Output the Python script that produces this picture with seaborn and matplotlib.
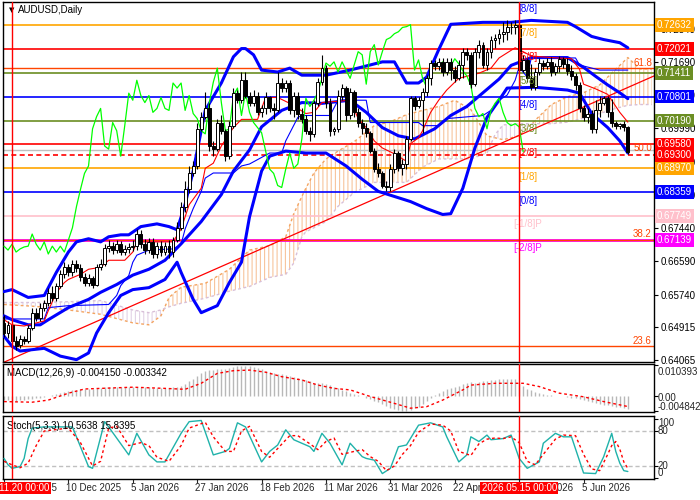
import matplotlib
matplotlib.use("Agg")
import matplotlib.pyplot as plt
import seaborn as sns
import numpy as np

sns.set_style("white")
plt.rcParams["font.family"] = ["Liberation Sans", "DejaVu Sans"]
plt.rcParams["hatch.linewidth"] = 0.8

# ---------------- candles (daily AUDUSD) ----------------
OPEN = [.6502,.6476,.6497,.6455,.6445,.6460,.6455,.6489,.6528,.6515,.6541,.6553,.6579,.6566,.6597,.6626,.6644,.6631,.6652,.6641,
        .6618,.6605,.6616,.6600,.6644,.6652,.6693,.6698,.6688,.6703,.6683,.6691,.6696,.6698,.6729,.6703,.6688,.6709,.6678,.6698,
        .6683,.6698,.6683,.6714,.6745,.6799,.6843,.6884,.6903,.6998,.7029,.7050,.6954,.6946,.7014,.6993,.6928,.7006,.7089,.7071,
        .7122,.7083,.7065,.7083,.7040,.7050,.7078,.7050,.7045,.7115,.7102,.7115,.7045,.7083,.7037,.7024,.6993,.6985,.7063,.7117,
        .7153,.7065,.6993,.6998,.7083,.7102,.7032,.7091,.7040,.7014,.7001,.6988,.6941,.6895,.6884,.6853,.6848,.6895,.6936,.6897,
        .6908,.6972,.7076,.7055,.7071,.7091,.7127,.7166,.7158,.7169,.7143,.7169,.7148,.7127,.7161,.7195,.7187,.7112,.7195,.7213,
        .7161,.7195,.7226,.7231,.7241,.7246,.7257,.7259,.7264,.7148,.7174,.7127,.7104,.7143,.7166,.7158,.7169,.7143,.7158,.7177,
        .7164,.7146,.7133,.7109,.7050,.7029,.7037,.6998,.7045,.7063,.7076,.7040,.7014,.7006,.7011,.7003]
HIGH = [.6522,.6507,.6502,.6468,.6471,.6468,.6497,.6541,.6541,.6553,.6561,.6592,.6597,.6605,.6636,.6657,.6652,.6662,.6662,.6652,
        .6629,.6626,.6623,.6652,.6665,.6703,.6714,.6709,.6714,.6711,.6701,.6706,.6714,.6742,.6740,.6716,.6719,.6719,.6709,.6711,
        .6709,.6714,.6722,.6760,.6812,.6864,.6903,.6915,.7014,.7040,.7091,.7063,.6967,.7024,.7032,.6998,.7019,.7102,.7097,.7143,
        .7143,.7091,.7097,.7091,.7060,.7091,.7083,.7063,.7143,.7127,.7122,.7122,.7091,.7091,.7050,.7032,.7003,.7071,.7127,.7187,
        .7161,.7076,.7003,.7097,.7112,.7107,.7102,.7097,.7050,.7024,.7014,.6993,.6949,.6910,.6890,.6864,.6908,.6946,.6941,.6921,
        .6980,.7083,.7081,.7078,.7102,.7135,.7174,.7174,.7179,.7179,.7179,.7179,.7158,.7174,.7205,.7205,.7195,.7205,.7226,.7220,
        .7205,.7236,.7239,.7252,.7272,.7277,.7272,.7277,.7272,.7187,.7179,.7164,.7153,.7179,.7174,.7179,.7182,.7166,.7184,.7182,
        .7179,.7161,.7140,.7117,.7058,.7050,.7045,.7071,.7081,.7083,.7081,.7073,.7019,.7014,.7019,.7006]
LOW = [.6466,.6463,.6440,.6432,.6437,.6448,.6450,.6484,.6507,.6507,.6533,.6546,.6559,.6559,.6590,.6616,.6623,.6621,.6631,.6610,
       .6597,.6595,.6592,.6595,.6636,.6647,.6683,.6678,.6680,.6675,.6675,.6680,.6685,.6688,.6693,.6678,.6680,.6667,.6667,.6672,
       .6675,.6667,.6670,.6709,.6740,.6786,.6833,.6877,.6895,.6993,.7024,.6941,.6928,.6941,.6985,.6915,.6921,.7001,.7063,.7065,
       .7076,.7055,.7055,.7032,.7029,.7037,.7040,.7024,.7040,.7091,.7091,.7037,.7027,.7024,.7014,.6985,.6967,.6977,.7055,.7109,
       .7050,.6980,.6983,.6990,.7071,.7019,.7024,.7029,.7003,.6985,.6977,.6936,.6887,.6874,.6846,.6838,.6840,.6884,.6890,.6879,
       .6895,.6967,.7045,.7050,.6988,.7083,.7109,.7148,.7148,.7133,.7135,.7122,.7117,.7122,.7127,.7174,.7102,.7107,.7179,.7153,
       .7148,.7179,.7205,.7215,.7220,.7226,.7241,.7241,.7140,.7143,.7117,.7097,.7097,.7135,.7148,.7151,.7133,.7135,.7143,.7153,
       .7135,.7122,.7097,.7040,.7019,.7014,.6988,.6988,.7029,.7060,.7029,.7003,.6998,.6998,.6993,.6934]
CLOSE = [.6476,.6497,.6455,.6442,.6460,.6455,.6489,.6528,.6515,.6541,.6553,.6579,.6566,.6597,.6626,.6644,.6631,.6652,.6641,.6618,
         .6605,.6616,.6600,.6644,.6652,.6693,.6698,.6688,.6703,.6683,.6691,.6696,.6698,.6729,.6703,.6688,.6709,.6678,.6698,.6683,
         .6698,.6683,.6714,.6745,.6799,.6843,.6884,.6903,.6998,.7029,.7050,.6954,.6946,.7014,.6993,.6928,.7006,.7089,.7071,.7122,
         .7083,.7065,.7083,.7040,.7050,.7078,.7050,.7045,.7115,.7102,.7115,.7045,.7083,.7037,.7024,.6993,.6985,.7063,.7117,.7153,
         .7065,.6993,.6998,.7083,.7102,.7032,.7091,.7040,.7014,.7001,.6988,.6941,.6895,.6884,.6853,.6848,.6895,.6936,.6897,.6908,
         .6972,.7076,.7055,.7071,.7091,.7127,.7166,.7158,.7169,.7143,.7169,.7148,.7127,.7161,.7195,.7187,.7112,.7195,.7213,.7161,
         .7195,.7226,.7231,.7241,.7246,.7257,.7259,.7264,.7148,.7174,.7127,.7104,.7143,.7166,.7158,.7169,.7143,.7158,.7177,.7164,
         .7146,.7133,.7109,.7050,.7029,.7037,.6998,.7045,.7063,.7076,.7040,.7014,.7006,.7011,.7003,.6939]

# ---------------- indicator traces (bar index, value) ----------------
BB_UPPER = [(0,.6582),(2,.6587),(6,.6567),(10,.6572),(13,.6631),(16,.6683),(18,.6709),(21,.6717),(24,.6709),(26,.6722),
            (29,.6727),(31,.6727),(34,.6748),(38,.6755),(41,.6748),(43,.6740),(45,.6805),(47,.6890),(49,.6993),(50,.7045),
            (54,.7115),(57,.7182),(59,.7203),(60,.7203),(62,.7187),(64,.7148),(68,.7143),(71,.7153),(74,.7135),(80,.7135),
            (86,.7148),(94,.7169),(97,.7169),(100,.7115),(103,.7115),(105,.7130),(108,.7200),(111,.7265),(119,.7270),
            (126,.7270),(131,.7275),(140,.7270),(142,.7259),(146,.7234),(149,.7226),(153,.7218),(155,.7205)]
BB_MID = [(0,.6520),(2,.6510),(6,.6497),(9,.6497),(11,.6510),(16,.6541),(21,.6562),(24,.6580),(28,.6600),(32,.6624),
          (36,.6639),(40,.6662),(44,.6704),(49,.6761),(54,.6830),(57,.6890),(61,.6944),(64,.7003),(69,.7045),(74,.7065),
          (79,.7063),(86,.7071),(90,.7040),(94,.7001),(98,.6980),(102,.6972),(107,.6998),(111,.7032),(115,.7055),
          (119,.7090),(123,.7125),(126,.7160),(131,.7180),(140,.7180),(144,.7155),(147,.7132),(150,.7110),(153,.7090),(155,.7075)]
BB_LOWER = [(0,.6468),(2,.6442),(4,.6430),(10,.6437),(14,.6417),(18,.6408),(21,.6425),(23,.6476),(26,.6528),(29,.6572),
            (32,.6587),(36,.6592),(40,.6613),(43,.6657),(44,.6631),(47,.6562),(49,.6528),(53,.6546),(56,.6605),(59,.6657),
            (61,.6773),(64,.6890),(66,.6928),(70,.6941),(75,.6936),(80,.6936),(85,.6903),(89,.6869),(93,.6838),(97,.6825),
            (101,.6812),(105,.6794),(109,.6779),(111,.6781),(114,.6846),(117,.6949),(120,.7027),(123,.7071),(125,.7102),
            (132,.7104),(140,.7097),(143,.7089),(146,.7037),(150,.7001),(153,.6967),(155,.6936)]
TENKAN = [(0,.6510),(2,.6497),(5,.6494),(10,.6507),(11,.6533),(13,.6579),(15,.6605),(16,.6613),(19,.6626),(21,.6639),
          (24,.6644),(26,.6662),(30,.6662),(32,.6683),(33,.6709),(42,.6709),(44,.6742),(46,.6804),(49,.6846),(50,.6897),
          (52,.6910),(54,.6954),(57,.7001),(59,.7022),(63,.7022),(65,.7078),(68,.7078),(71,.7063),(75,.7037),(77,.7040),
          (79,.7065),(86,.7071),(88,.7024),(90,.7001),(92,.6967),(94,.6949),(97,.6934),(100,.6915),(101,.6960),(103,.6975),
          (104,.6993),(106,.7040),(108,.7071),(110,.7097),(113,.7127),(118,.7140),(121,.7153),(123,.7179),(127,.7205),
          (129,.7195),(131,.7184),(136,.7180),(141,.7177),(143,.7150),(144,.7112),(147,.7100),(150,.7086),(153,.7040),(155,.7015)]
KIJUN = [(0,.6512),(10,.6512),(11,.6541),(16,.6546),(26,.6549),(28,.6572),(29,.6597),(31,.6623),(32,.6657),(33,.6675),
         (36,.6688),(42,.6691),(44,.6703),(45,.6742),(47,.6794),(49,.6838),(50,.6872),(52,.6885),(57,.6885),(59,.6903),
         (61,.6908),(66,.6936),(69,.6936),(70,.6967),(73,.7027),(74,.7032),(81,.7032),(83,.7071),(90,.7071),(91,.7014),
         (103,.7014),(104,.7006),(108,.7006),(110,.7024),(119,.7032),(121,.7045),(123,.7071),(125,.7084),(127,.7122),
         (128,.7156),(130,.7130),(131,.7179),(142,.7179),(143,.7161),(148,.7148),(155,.7148)]
CLOUD_X = [0,8,16,24,32,36,39,41,44,50,56,61,66,70,72,74,75,77,80,83,87,92,96,100,104,108,112,116,120,122,124,128,
           132,136,140,144,148,152,155,158,161]
SPAN_A = [.6549,.6544,.6535,.6524,.6502,.6497,.6520,.6567,.6593,.6603,.6639,.6688,.6699,.6722,.6781,.6825,.6846,.6885,
          .6921,.6941,.6965,.7006,.7016,.7034,.7045,.7055,.7071,.7047,.6980,.6975,.6970,.6980,.7020,.7060,.7080,.7090,
          .7110,.7150,.7180,.7151,.7151]
SPAN_B = [.6554,.6554,.6556,.6559,.6535,.6528,.6535,.6543,.6552,.6565,.6583,.6595,.6618,.6626,.6655,.6722,.6735,.6745,
          .6761,.6800,.6835,.6861,.6861,.6861,.6900,.6921,.6921,.6921,.6936,.6983,.7008,.7011,.7011,.7011,.7015,.7025,
          .7037,.7050,.7058,.7060,.7060]
CHIKOU_SHIFT = 26

MACD = [-.0012,-.0013,-.0014,-.0014,-.0013,-.0012,-.0010,-.0008,-.0006,-.0004,
        -.0002,.0001,.0004,.0007,.0010,.0014,.0017,.0020,.0023,.0024,
        .0024,.0025,.0025,.0027,.0029,.0031,.0032,.0032,.0032,.0031,
        .0031,.0031,.0030,.0031,.0031,.0030,.0030,.0029,.0029,.0029,
        .0028,.0029,.0030,.0032,.0036,.0042,.0050,.0058,.0068,.0077,
        .0085,.0088,.0089,.0092,.0093,.0092,.0094,.0098,.0100,.0103,
        .0102,.0100,.0097,.0095,.0090,.0086,.0082,.0079,.0076,.0075,
        .0072,.0069,.0066,.0062,.0058,.0054,.0050,.0046,.0045,.0045,
        .0042,.0038,.0032,.0027,.0022,.0017,.0013,.0009,.0004,.0000,
        -.0004,-.0009,-.0014,-.0020,-.0026,-.0032,-.0037,-.0041,-.0044,-.0047,
        -.0048,-.0046,-.0040,-.0034,-.0026,-.0016,-.0006,.0004,.0012,.0019,
        .0024,.0029,.0033,.0036,.0040,.0044,.0047,.0046,.0049,.0052,
        .0053,.0054,.0056,.0057,.0058,.0058,.0059,.0058,.0046,.0034,
        .0026,.0020,.0015,.0011,.0008,.0006,.0004,.0002,.0001,.0000,
        -.0002,-.0004,-.0006,-.0009,-.0012,-.0016,-.0019,-.0023,-.0026,-.0028,
        -.0030,-.0032,-.0034,-.0036,-.0038,-.00415]
MACD_SIGNAL = [(0,-.0017),(7,-.0019),(11,-.0012),(16,.0011),(20,.0025),(24,.0027),(32,.0031),(40,.0027),(45,.0024),
               (49,.0044),(53,.0077),(57,.0086),(61,.0088),(65,.0081),(69,.0066),(74,.0055),(78,.0038),(82,.0027),
               (86,.0022),(91,.0000),(97,-.0023),(101,-.0039),(105,-.0034),(109,-.0012),(114,.0022),(116,.0038),
               (122,.0044),(129,.0044),(133,.0033),(138,.0011),(144,-.0001),(149,-.0017),(155,-.003342)]
STOCH_K = [(0,33),(1,22),(2,16),(4,19),(5,33),(6,67),(7,85),(10,87),(17,87),(21,19),(22,16),(25,96),(26,87),(31,39),
           (33,76),(36,39),(38,27),(40,27),(44,76),(46,96),(49,98),(52,39),(55,45),(56,50),(58,94),(60,87),(64,27),
           (66,45),(68,56),(70,82),(72,65),(76,53),(77,45),(79,76),(81,59),(84,22),(86,59),(89,36),(90,33),(92,30),
           (94,7),(96,16),(98,53),(100,56),(103,90),(106,94),(109,87),(110,70),(113,27),(115,39),(116,70),(118,62),
           (120,73),(121,65),(124,67),(126,73),(128,33),(130,16),(133,27),(134,59),(137,76),(139,70),(141,70),(144,8),
           (147,7),(149,36),(151,76),(152,45),(153,25),(154,12),(155,10.5638)]
STOCH_D = [(0,28),(2,22),(4,17),(6,25),(8,55),(10,80),(16,85),(19,60),(22,20),(24,28),(26,85),(28,88),(31,55),(34,60),
           (36,55),(38,35),(41,28),(44,55),(46,85),(50,95),(52,70),(55,45),(57,45),(59,80),(61,88),(64,45),(66,35),
           (68,50),(71,72),(73,72),(76,58),(78,48),(80,62),(82,68),(84,40),(87,45),(89,48),(91,36),(93,28),(95,12),
           (97,20),(99,40),(101,55),(103,78),(106,92),(109,90),(111,80),(113,45),(116,38),(118,58),(120,66),(122,68),
           (124,67),(126,70),(128,60),(130,28),(132,22),(134,40),(137,66),(139,73),(142,72),(144,40),(146,15),(148,12),
           (150,40),(151,55),(152,62),(153,49),(154,27),(155,15.8395)]

# ---------------- objects ----------------
MURRAY_NAMES = ["[8/8]", "[7/8]", "[6/8]", "[5/8]", "[4/8]", "[3/8]", "[2/8]", "[1/8]", "[0/8]", "[-1/8]P", "[-2/8]P"]
MURRAY_VALUES = [0.73242, 0.72632, 0.72021, 0.71411, 0.70801, 0.70190, 0.69580, 0.68970, 0.68359, 0.67749, 0.67139]
MURRAY_COLORS = ["#0000FF", "#FFA500", "#FF0000", "#6B8E23", "#0000FF", "#6B8E23", "#FF0000", "#FFA500", "#0000FF",
                 "#FFC0CB", "#FF00FF"]
FIB_NAMES = ["61.8", "50.0", "38.2", "23.6"]
FIB_VALUES = [0.7153, 0.6934, 0.6714, 0.6442]
PRICE_LINE = 0.69300
BID_LINE = 0.6945
TREND_X = [-1.0, 161.5]
TREND_Y = [0.6397, 0.7133]
VLINE_BARS = [2, 128]
VLINE_TEXT = ["2025.11.20 00:00", "2026.05.15 00:00"]
PRICE_TICKS = [0.72540, 0.71690, 0.70840, 0.69990, 0.69140, 0.68290, 0.67440, 0.66590, 0.65740, 0.64915, 0.64065]
DATE_BARS = [0, 16, 32, 48, 64, 80, 96, 112, 128, 144]
DATE_TEXT = ["18 Nov 2025", "10 Dec 2025", "5 Jan 2026", "27 Jan 2026", "18 Feb 2026", "11 Mar 2026",
             "31 Mar 2026", "22 Apr 2026", "14 May 2026", "5 Jun 2026"]

FS = 7
fig = plt.figure(figsize=(7, 5), dpi=100)
fig.patch.set_facecolor("white")
ax = fig.add_axes([3/700, 1-362/500, 651/700, 360/500])
axm = fig.add_axes([3/700, 1-412/500, 651/700, 48/500])
axs = fig.add_axes([3/700, 1-479/500, 651/700, 63/500])

for a in (ax, axm, axs):
    a.set_facecolor("white")
    a.set_xlim(-0.25, 161.5)
    for s in a.spines.values():
        s.set_color("black")
        s.set_linewidth(1.0)
    a.tick_params(axis="x", bottom=False, labelbottom=False)
    a.yaxis.tick_right()
    a.tick_params(axis="y", direction="out", length=3, width=0.8, labelsize=FS, pad=2, colors="black")

def xy(pairs):
    return np.array([p[0] for p in pairs], float), np.array([p[1] for p in pairs], float)

idx = np.arange(len(CLOSE))
O, H, L, C = map(np.array, (OPEN, HIGH, LOW, CLOSE))

# ---- Ichimoku cloud ----
cx, ca, cb = np.array(CLOUD_X, float), np.array(SPAN_A), np.array(SPAN_B)
ax.fill_between(cx, ca, cb, where=ca >= cb, interpolate=True, facecolor="none", edgecolor="#F7C49C",
                hatch="||||", linewidth=0, zorder=1)
ax.fill_between(cx, ca, cb, where=ca < cb, interpolate=True, facecolor="none", edgecolor="#E2D2E6",
                hatch="||||", linewidth=0, zorder=1)
ax.plot(cx, ca, color="#F4A460", lw=1.0, linestyle=(0, (2, 2)), zorder=1.2)
ax.plot(cx, cb, color="#D8BFD8", lw=1.0, linestyle=(0, (2, 2)), zorder=1.2)

# ---- horizontal objects ----
for v, c in zip(MURRAY_VALUES, MURRAY_COLORS):
    ax.axhline(v, color=c, lw=2.0 if c == "#FF00FF" else 1.2, zorder=2)
for name, v in zip(FIB_NAMES, FIB_VALUES):
    if name != "50.0":
        ax.axhline(v, color="#FF4500", lw=1.0, zorder=2.1)
    ax.annotate(name, xy=(1.0, v), xycoords=("axes fraction", "data"), xytext=(-1.5, 4),
                textcoords="offset points", ha="right", va="center", color="#FF4500", fontsize=FS, zorder=6)
ax.axhline(BID_LINE, color="#C0C0C0", lw=1.0, zorder=2)
ax.axhline(PRICE_LINE, color="#FF0000", lw=1.2, linestyle=(0, (3, 2)), zorder=2)
ax.plot(TREND_X, TREND_Y, color="#FF0000", lw=0.9, zorder=2.2)

# ---- indicator lines ----
for pairs in (BB_UPPER, BB_MID, BB_LOWER):
    x_, y_ = xy(pairs)
    sns.lineplot(x=x_, y=y_, ax=ax, color="#0000FF", lw=2.2, zorder=4)
x_, y_ = xy(KIJUN)
sns.lineplot(x=x_, y=y_, ax=ax, color="#0000FF", lw=0.8, zorder=4)
x_, y_ = xy(TENKAN)
sns.lineplot(x=x_, y=y_, ax=ax, color="#FF0000", lw=0.8, zorder=4)
sns.lineplot(x=idx[:-CHIKOU_SHIFT], y=C[CHIKOU_SHIFT:], ax=ax, color="#00FF00", lw=0.9, zorder=4)

# ---- candles ----
ax.vlines(idx, L, H, color="black", lw=0.8, zorder=5)
bull = C >= O
body = np.maximum(np.abs(C - O), 0.00012)
ax.bar(idx[bull], body[bull], bottom=np.minimum(O, C)[bull], width=0.72, color="white",
       edgecolor="black", linewidth=0.7, zorder=5.5)
ax.bar(idx[~bull], body[~bull], bottom=np.minimum(O, C)[~bull], width=0.72, color="black",
       edgecolor="black", linewidth=0.7, zorder=5.5)

ax.set_ylim(0.64020, 0.73220)
ax.set_yticks(PRICE_TICKS)
ax.set_yticklabels([f"{t:.5f}" for t in PRICE_TICKS])

# murray labels
for name, v, c in zip(MURRAY_NAMES, MURRAY_VALUES, MURRAY_COLORS):
    ax.annotate(name, xy=(130.2, v), xytext=(0, -6), textcoords="offset points", ha="center", va="center",
                color=c, fontsize=FS, zorder=6, annotation_clip=False)

# right-side price boxes
box_items = list(zip(MURRAY_VALUES[1:], MURRAY_COLORS[1:])) + [(PRICE_LINE, "#FF0000")]
for v, c in box_items:
    ax.text(1.0046, v, f"{v:.5f}", transform=ax.get_yaxis_transform(), ha="left", va="center",
            color="white", fontsize=FS, zorder=10, clip_on=False,
            bbox=dict(boxstyle="square,pad=0.18", facecolor=c, edgecolor="none"))

ax.text(0.009, 0.978, "\u25BC", transform=ax.transAxes, fontsize=5, va="center", ha="left",
        family=["DejaVu Sans"], color="black")
ax.text(0.023, 0.978, "AUDUSD,Daily", transform=ax.transAxes, fontsize=FS, va="center", ha="left", color="black")

# ---- vertical lines across panels ----
for a in (ax, axm, axs):
    for b in VLINE_BARS:
        a.axvline(b, color="#FF0000", lw=1.0, zorder=7)

# ---- MACD ----
axm.vlines(idx, 0, MACD, color="#B8B8B8", lw=1.0, zorder=2)
x_, y_ = xy(MACD_SIGNAL)
axm.plot(x_, y_, color="#FF0000", lw=1.0, linestyle=(0, (2, 2)), zorder=3)
axm.set_ylim(-0.00517, 0.01083)
axm.set_yticks([0.010393, 0.0, -0.004842])
axm.set_yticklabels([])
for txt, fy in (("0.010393", 0.83), ("0.00", 0.29), ("-0.004842", 0.104)):
    axm.text(1.006, fy, txt, transform=axm.transAxes, fontsize=FS, va="center", ha="left", clip_on=False)
axm.text(0.006, 0.81, "MACD(12,26,9) -0.004150 -0.003342", transform=axm.transAxes, fontsize=FS,
         va="center", ha="left", color="black")

# ---- Stochastic ----
for lvl in (20, 80):
    axs.axhline(lvl, color="#C0C0C0", lw=1.0, linestyle=(0, (3, 2)), zorder=1)
x_, y_ = xy(STOCH_K)
sns.lineplot(x=x_, y=y_, ax=axs, color="#20B2AA", lw=1.0, zorder=3)
x_, y_ = xy(STOCH_D)
axs.plot(x_, y_, color="#FF0000", lw=1.0, linestyle=(0, (2, 2)), zorder=3)
axs.set_ylim(-2.3, 105.7)
axs.set_yticks([100, 80, 20, 0])
axs.set_yticklabels([])
for txt, fy in (("100", 0.889), ("80", 0.762), ("20", 0.206), ("0", 0.095)):
    axs.text(1.006, fy, txt, transform=axs.transAxes, fontsize=FS, va="center", ha="left", clip_on=False)
axs.text(0.006, 0.84, "Stoch(5,3,3) 10.5638 15.8395", transform=axs.transAxes, fontsize=FS,
         va="center", ha="left", color="black")

axs.set_xticks(DATE_BARS)
axs.set_xticklabels([])
axs.tick_params(axis="x", bottom=True, direction="out", length=3, width=0.8)
for b, t in zip(DATE_BARS, DATE_TEXT):
    axs.text(b - 0.5, -0.143, t, transform=axs.get_xaxis_transform(), fontsize=FS, ha="left", va="center",
             clip_on=False, zorder=5)
for b, t in zip(VLINE_BARS, VLINE_TEXT):
    axs.text(b, -0.143, t, transform=axs.get_xaxis_transform(), fontsize=FS, ha="center", va="center",
             color="white", clip_on=False, zorder=8,
             bbox=dict(boxstyle="square,pad=0.15", facecolor="#FF0000", edgecolor="none"))

for a in (ax, axm, axs):
    a.set_xlabel("")
    a.set_ylabel("")

fig.savefig("out.png", dpi=100, facecolor="white")
